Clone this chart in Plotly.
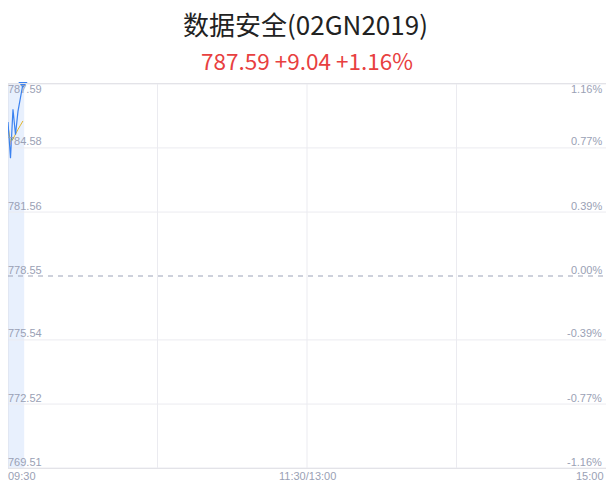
import plotly.graph_objects as go

title_text = "数据安全(02GN2019)"
subtitle_text = "787.59 +9.04 +1.16%"

minutes = [0, 1, 2, 3, 4, 5, 6]
price = [785.80, 784.10, 786.40, 785.20, 786.30, 787.00, 787.59]
avg_price = [785.60, 784.85, 785.00, 785.25, 785.45, 785.65, 785.85]

prev_close = 778.55
y_levels = [769.51, 772.52, 775.54, 778.55, 781.56, 784.58, 787.59]
y_left_labels = ["769.51", "772.52", "775.54", "778.55", "781.56", "784.58", "787.59"]
y_right_labels = ["-1.16%", "-0.77%", "-0.39%", "0.00%", "0.39%", "0.77%", "1.16%"]

x_ticks = [0, 120, 240]
x_tick_labels = ["09:30", "11:30/13:00", "15:00"]
x_grid = [60, 120, 180]

label_color = "#9aa1b5"
grid_color = "#ebebf0"
num_font = "Liberation Sans, Arial, sans-serif"

H, T, B = 492, 84, 24
plot_h = H - T - B

fig = go.Figure()

fig.add_trace(go.Scatter(x=minutes, y=avg_price, mode="lines",
                         line=dict(color="#e3b52b", width=1), hoverinfo="skip"))
fig.add_trace(go.Scatter(x=minutes, y=price, mode="lines",
                         line=dict(color="#3b82f0", width=1.2), hoverinfo="skip"))
fig.add_trace(go.Scatter(x=[minutes[-1]], y=[price[-1]], mode="markers",
                         marker=dict(symbol="triangle-down", size=8, color="#3b82f0"),
                         hoverinfo="skip", cliponaxis=False))

shapes = []
shapes.append(dict(type="rect", xref="x", yref="paper", x0=minutes[0], x1=minutes[-1] + 0.5,
                   y0=0, y1=1, fillcolor="#e8f0fd", line=dict(width=0), layer="below"))
for v in y_levels:
    if v == prev_close:
        continue
    shapes.append(dict(type="line", xref="paper", yref="y", x0=0, x1=1, y0=v, y1=v,
                       line=dict(color=grid_color, width=1), layer="below"))
for xv in x_grid:
    shapes.append(dict(type="line", xref="x", yref="paper", x0=xv, x1=xv, y0=0, y1=1,
                       line=dict(color=grid_color, width=1), layer="below"))
shapes.append(dict(type="line", xref="x", yref="paper", x0=0, x1=0, y0=0, y1=1,
                   line=dict(color="#d9deea", width=1), layer="below"))
shapes.append(dict(type="line", xref="paper", yref="y", x0=0, x1=1, y0=prev_close, y1=prev_close,
                   line=dict(color="#9ca3b8", width=1, dash="5px,5px"), layer="above"))

annotations = []
n = len(y_levels)
for i, (v, lt, rt) in enumerate(zip(y_levels, y_left_labels, y_right_labels)):
    top = i == n - 1
    anchor = "top" if top else "bottom"
    ys = 3 if top else -1.5
    annotations.append(dict(x=0, y=v, xref="paper", yref="y", text=lt, showarrow=False,
                            xanchor="left", yanchor=anchor, xshift=-2, yshift=ys,
                            font=dict(size=11, color=label_color, family=num_font)))
    annotations.append(dict(x=1, y=v, xref="paper", yref="y", text=rt, showarrow=False,
                            xanchor="right", yanchor=anchor, xshift=-2, yshift=ys,
                            font=dict(size=11, color=label_color, family=num_font)))
for i, (xv, t) in enumerate(zip(x_ticks, x_tick_labels)):
    xa = "left" if i == 0 else ("right" if i == len(x_ticks) - 1 else "center")
    annotations.append(dict(x=xv, y=0, xref="x", yref="paper", text=t, showarrow=False,
                            xanchor=xa, yanchor="top", yshift=0, xshift=-2 if i == 0 else 0,
                            font=dict(size=11, color=label_color, family=num_font)))

annotations.append(dict(x=0.5, y=1 + (T - 60) / plot_h, xref="paper", yref="paper", text=subtitle_text,
                        showarrow=False, xanchor="center", yanchor="middle",
                        font=dict(size=22.5, color="#e84040", family="Noto Sans CJK SC, sans-serif")))

fig.update_layout(
    width=611, height=H,
    margin=dict(l=8, r=5, t=T, b=B),
    paper_bgcolor="white", plot_bgcolor="white",
    showlegend=False,
    shapes=shapes,
    annotations=annotations,
    title=dict(text=title_text, x=0.5, xanchor="center", y=1 - 26 / H, yanchor="middle",
               yref="container",
               font=dict(size=26, color="#222222", family="Noto Sans CJK SC, sans-serif")),
    xaxis=dict(range=[0, 240], showgrid=False, zeroline=False, showticklabels=False,
               showline=True, linecolor="#e3e3e8", mirror=True, fixedrange=True),
    yaxis=dict(range=[y_levels[0], y_levels[-1]], showgrid=False, zeroline=False,
               showticklabels=False, showline=False, fixedrange=True),
)

fig.write_html("out.html", config={"displayModeBar": False},
               post_script="document.body.style.margin='0px';")
